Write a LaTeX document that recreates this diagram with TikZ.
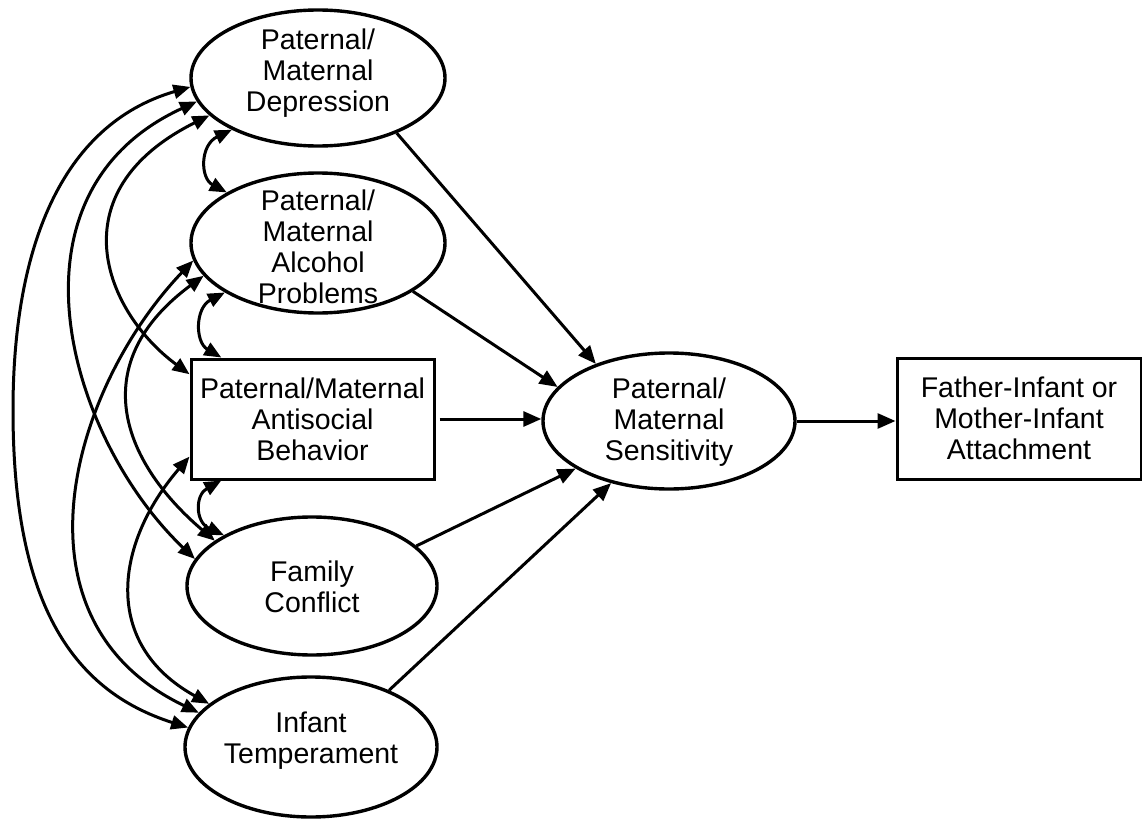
\documentclass[tikz,border=0pt]{standalone}
\usepackage{fontspec}
\setmainfont{Liberation Sans}
\usetikzlibrary{arrows.meta,shapes.geometric}
\newcommand\lblfont{\fontsize{14.25}{15.5}\selectfont}
\begin{document}
\begin{tikzpicture}[x=0.5pt,y=-0.5pt,
  ell/.style={ellipse,draw,line width=1.7pt,inner sep=0pt},
  box/.style={rectangle,draw,line width=1.5pt,inner sep=0pt,align=center,font=\lblfont},
  lbl/.style={align=center,inner sep=0pt,font=\lblfont},
  pth/.style={line width=1.5pt,-{Triangle[length=9pt,width=7.5pt]}},
  cov/.style={line width=1.5pt,{Triangle[length=8.5pt,width=7pt]}-{Triangle[length=8.5pt,width=7pt]}}]
\useasboundingbox (0,0) rectangle (1142,819);
% nodes
\node[ell,minimum width=127pt,minimum height=68pt] (D) at (318,78) {};
\node[lbl] (Dt) at (318,73) {Paternal/\\Maternal\\Depression};
\node[ell,minimum width=127pt,minimum height=70pt] (A) at (318,243) {};
\node[lbl] (At) at (318,247) {Paternal/\\Maternal\\Alcohol\\Problems};
\node[box,minimum width=121.5pt,minimum height=60pt] (AS) at (312.5,419) {Paternal/Maternal\\Antisocial\\Behavior};
\node[ell,minimum width=125pt,minimum height=69pt] (F) at (312,586) {};
\node[lbl] (Ft) at (312,587) {Family\\Conflict};
\node[ell,minimum width=126pt,minimum height=70pt] (I) at (311,747) {};
\node[lbl] (It) at (311,741) {Infant\\Temperament};
\node[ell,minimum width=126pt,minimum height=68pt] (S) at (669,421) {};
\node[lbl] (St) at (669,422) {Paternal/\\Maternal\\Sensitivity};
\node[box,minimum width=122pt,minimum height=60.5pt] (T) at (1019,418.5) {Father-Infant or\\Mother-Infant\\Attachment};
% direct paths
\draw[pth] (D.-35) -- (S.142);
\draw[pth] (A.-27) -- (S.163);
\draw[pth] ([xshift=2pt]AS.east) -- (S.west |- AS.east);
\draw[pth] (F.21) -- (S.207);
\draw[pth] (I.36) -- (S.227);
\draw[pth] (S.east) -- (T.west |- S.east);
% covariances
\draw[cov] (D.184) .. controls (60,125) and (13,250) .. (13,410) .. controls (13,600) and (70,690) .. (I.171);
\draw[cov] (D.191) .. controls (-4,194) and (69,439) .. (F.167);
\draw[cov] (D.199) .. controls (56,192) and (105,312) .. (AS.160);
\draw[cov] (A.196) .. controls (87,362) and (119,459) .. (F.155);
\draw[cov] (A.188) .. controls (70,390) and (5,620) .. (I.163);
\draw[cov] (AS.197) .. controls (115,543) and (101,644) .. (I.157);
\draw[cov] (D.211) .. controls (200,145) and (200,178) .. (A.151);
\draw[cov] (A.208) .. controls (195,308) and (195,342) .. (AS.146.5);
\draw[cov] (AS.214) .. controls (195,495) and (195,522) .. (F.150);
\end{tikzpicture}
\end{document}
